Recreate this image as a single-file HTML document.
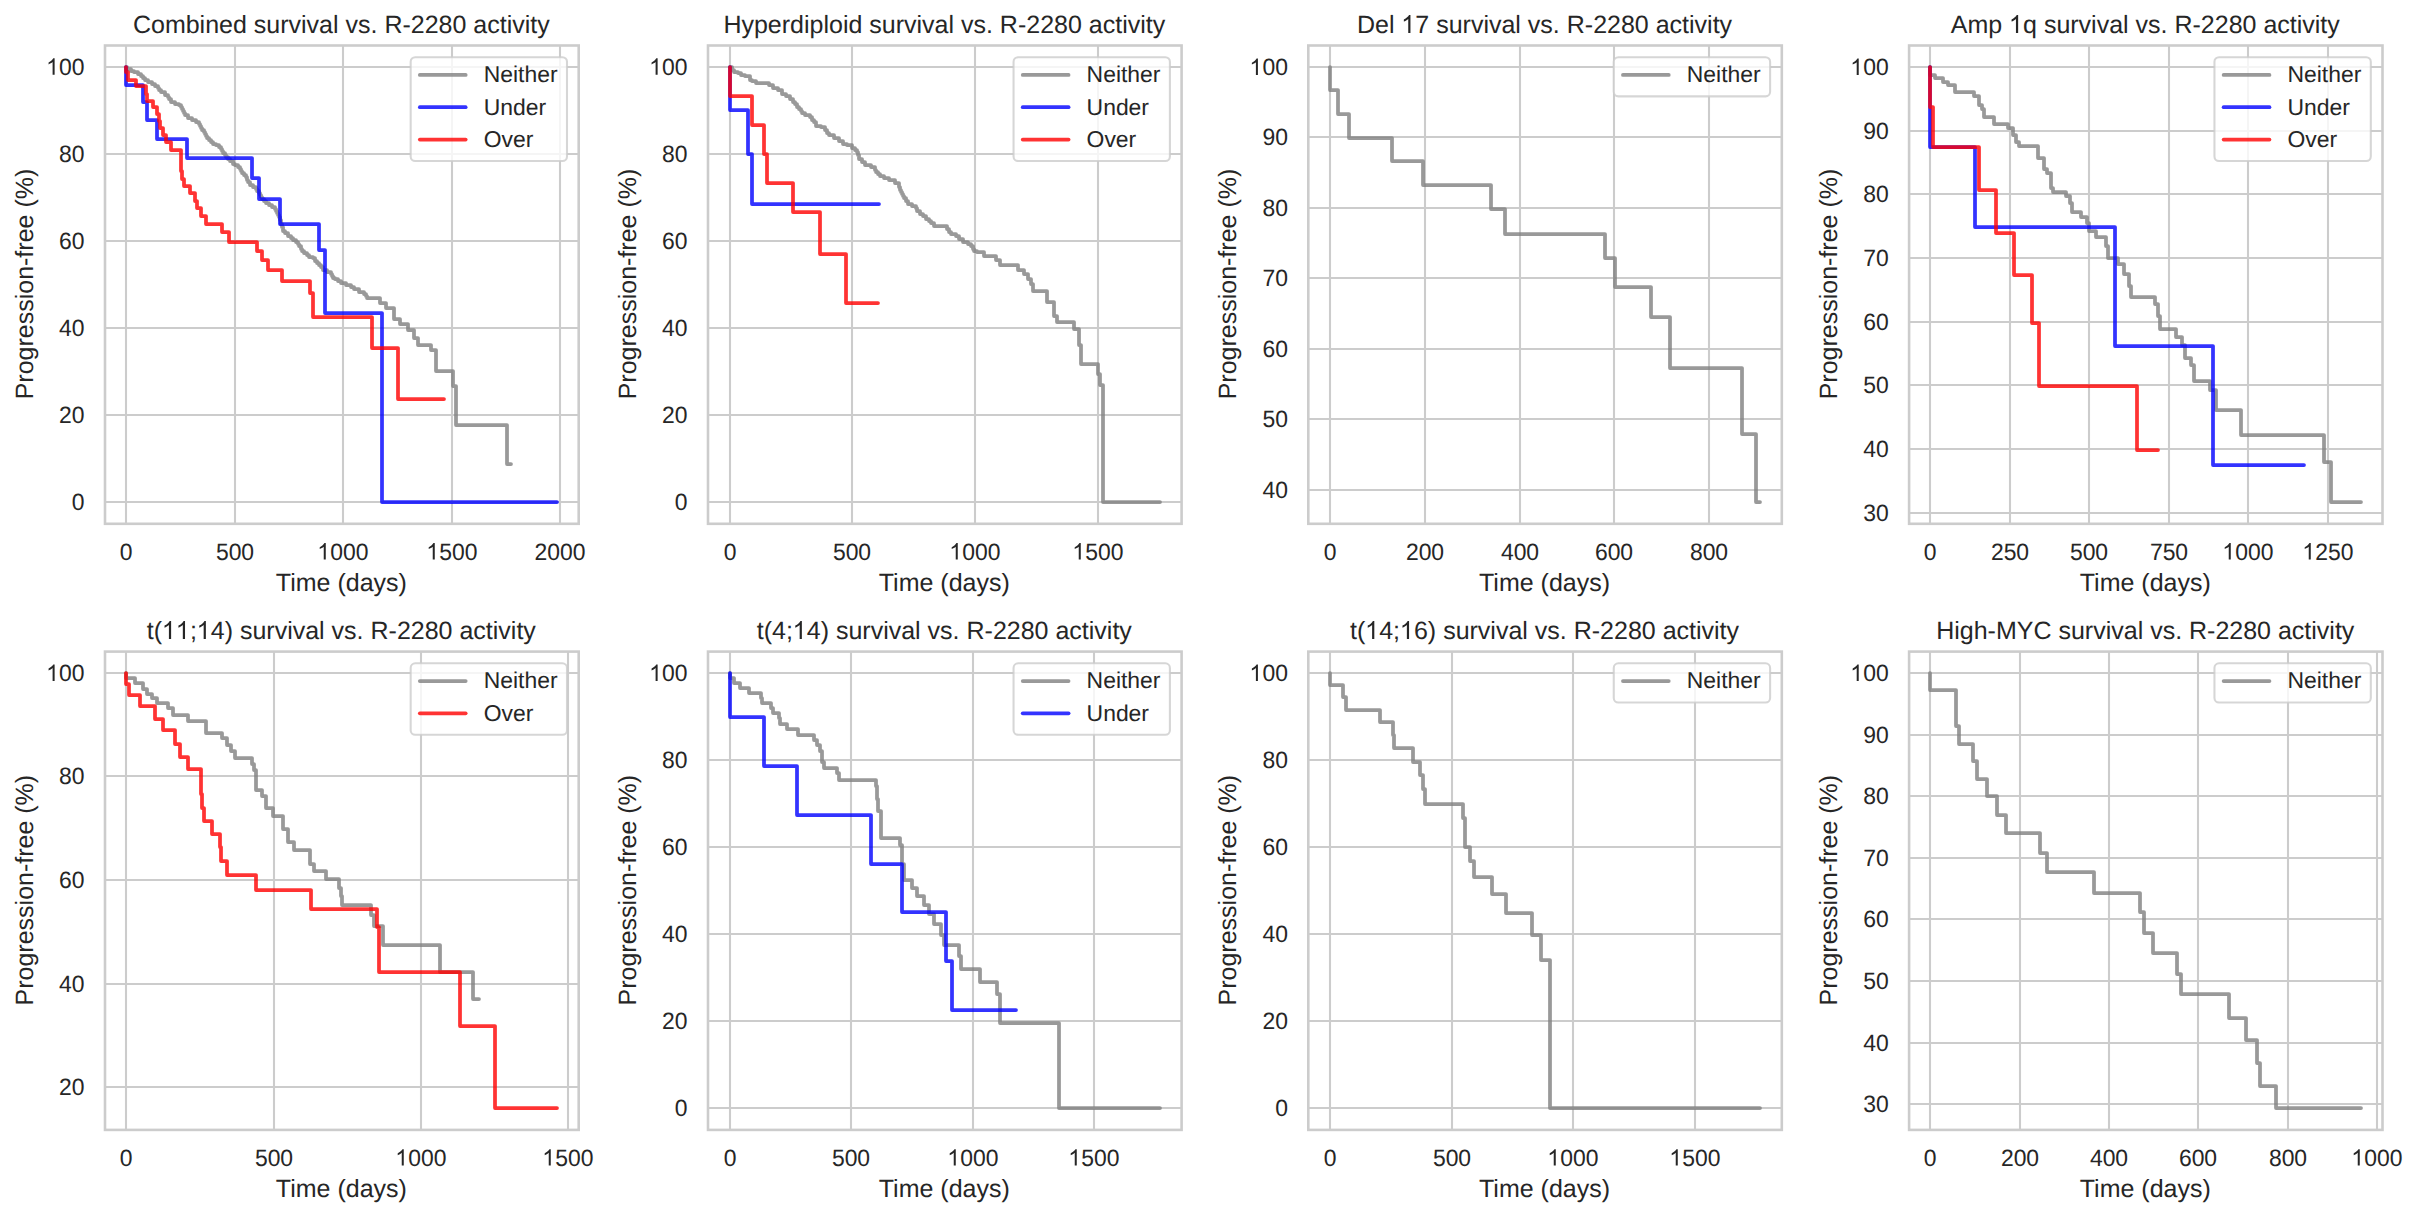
<!DOCTYPE html><html><head><meta charset="utf-8"><style>html,body{margin:0;padding:0;background:#fff;}svg{display:block;}text{font-family:"Liberation Sans",sans-serif;fill:#262626;text-rendering:geometricPrecision;}</style></head><body>
<svg width="2418" height="1218" viewBox="0 0 2418 1218">
<rect x="0" y="0" width="2418" height="1218" fill="#ffffff"/>
<path d="M126 45.5V523.8M235 45.5V523.8M343 45.5V523.8M452 45.5V523.8M560 45.5V523.8M105 502H578.7M105 415H578.7M105 328H578.7M105 241H578.7M105 154H578.7M105 67H578.7" stroke="#cccccc" stroke-width="2.08" fill="none"/>
<path d="M126 67L127 67L127 69L129 69L131 69L131 71L132 71L134 71L134 72L136 72L138 72L138 74L140 74L141 74L141 76L143 76L143 78L144 78L145 78L145 80L146 80L148 80L148 82L150 82L152 82L152 84L154 84L155 84L155 86L157 86L158 86L158 88L159 88L159 90L160 90L161 90L161 92L163 92L165 92L165 95L168 95L168 95L168 97L169 97L169 99L170 99L171 99L171 102L172 102L175 102L175 104L178 104L179 104L179 105L181 105L181 107L182 107L182 107L182 109L183 109L183 111L184 111L184 111L184 113L185 113L185 115L186 115L188 115L188 118L190 118L192 118L192 120L194 120L196 120L196 122L198 122L199 122L199 124L200 124L200 126L201 126L201 126L201 128L202 128L202 130L203 130L204 130L204 132L205 132L205 134L206 134L206 136L206 136L207 136L207 138L209 138L209 140L211 140L211 142L211 142L213 142L213 144L216 144L216 145L217 145L219 145L219 147L220 147L221 147L221 149L222 149L222 151L223 151L223 153L224 153L225 153L225 155L226 155L226 157L228 157L228 159L229 159L230 159L230 161L233 161L233 164L234 164L235 164L235 165L238 165L238 167L239 167L240 167L240 169L241 169L241 171L242 171L242 173L243 173L244 173L244 175L246 175L246 177L247 177L247 177L247 180L248 180L248 182L249 182L250 182L250 185L253 185L253 187L255 187L256 187L256 189L257 189L257 191L259 191L259 193L260 193L260 193L260 195L261 195L261 197L262 197L262 199L263 199L264 199L264 201L266 201L266 203L268 203L269 203L269 205L272 205L272 207L274 207L275 207L275 209L276 209L276 211L277 211L277 213L278 213L278 213L278 215L279 215L279 217L280 217L280 219L280 219L280 220L281 220L281 222L281 222L281 222L281 224L282 224L282 227L283 227L283 229L283 229L283 231L284 231L285 231L285 233L288 233L288 236L289 236L291 236L291 238L293 238L293 240L296 240L296 242L297 242L298 242L298 244L299 244L299 246L301 246L301 249L301 249L302 249L302 251L304 251L304 253L307 253L307 255L308 255L309 255L309 257L313 257L313 258L314 258L315 258L315 261L317 261L317 263L318 263L319 263L319 265L321 265L321 267L323 267L323 270L324 270L327 270L327 272L330 272L331 272L331 274L332 274L332 276L333 276L333 278L334 278L335 278L335 279L338 279L338 281L341 281L341 283L342 283L346 283L346 285L350 285L351 285L351 287L354 287L354 289L355 289L359 289L359 292L363 292L364 292L364 294L366 294L366 296L367 296L367 298L368 298L374 298L374 298L380 298L380 303L386 303L386 308L394 308L394 319L400 319L400 324L408 324L408 330L414 330L414 338L418 338L418 345L431 345L431 350L436 350L436 371L453 371L453 386L456 386L456 425L507 425L507 464L511 464" stroke="#808080" stroke-opacity="0.8" stroke-width="3.75" fill="none" stroke-linejoin="round" stroke-linecap="round"/>
<path d="M126 67L126 85L143 85L143 102L147 102L147 120L157 120L157 139L187 139L187 158L252 158L252 178L259 178L259 199L280 199L280 224L319 224L319 250L325 250L325 313L382 313L382 502L557 502" stroke="#0000ff" stroke-opacity="0.8" stroke-width="3.75" fill="none" stroke-linejoin="round" stroke-linecap="round"/>
<path d="M126 67L126 72L128 72L128 80L136 80L136 86L146 86L146 94L147 94L147 101L153 101L153 107L157 107L157 114L159 114L159 121L160 121L160 128L163 128L163 135L166 135L166 142L171 142L171 150L181 150L181 171L182 171L182 179L184 179L184 186L190 186L190 193L195 193L195 201L197 201L197 208L201 208L201 216L206 216L206 224L222 224L222 232L229 232L229 242L257 242L257 251L262 251L262 260L268 260L268 270L282 270L282 281L310 281L310 293L313 293L313 317L372 317L372 348L398 348L398 399L444 399" stroke="#ff0000" stroke-opacity="0.8" stroke-width="3.75" fill="none" stroke-linejoin="round" stroke-linecap="round"/>
<rect x="105" y="45.5" width="473.7" height="478.3" fill="none" stroke="#cccccc" stroke-width="2.6"/>
<text transform="translate(126 559.5) scale(1 1.035)" font-size="22.92" text-anchor="middle">0</text>
<text transform="translate(235 559.5) scale(1 1.035)" font-size="22.92" text-anchor="middle">500</text>
<text id="q0" transform="translate(343 559.5) scale(1 1.035)" font-size="22.92" text-anchor="middle"> 000</text>
<text id="q1" transform="translate(452 559.5) scale(1 1.035)" font-size="22.92" text-anchor="middle"> 500</text>
<text transform="translate(560 559.5) scale(1 1.035)" font-size="22.92" text-anchor="middle">2000</text>
<text transform="translate(84.6 509.95) scale(1 1.035)" font-size="22.92" text-anchor="end">0</text>
<text transform="translate(84.6 422.92) scale(1 1.035)" font-size="22.92" text-anchor="end">20</text>
<text transform="translate(84.6 335.89) scale(1 1.035)" font-size="22.92" text-anchor="end">40</text>
<text transform="translate(84.6 248.86) scale(1 1.035)" font-size="22.92" text-anchor="end">60</text>
<text transform="translate(84.6 161.83) scale(1 1.035)" font-size="22.92" text-anchor="end">80</text>
<text id="q2" transform="translate(84.6 74.8) scale(1 1.035)" font-size="22.92" text-anchor="end"> 00</text>
<text x="341.35" y="32.9" font-size="25.0" text-anchor="middle">Combined survival vs. R-2280 activity</text>
<text x="341.35" y="590.9" font-size="25.0" text-anchor="middle">Time (days)</text>
<text transform="translate(33.1 284.05) rotate(-90)" font-size="25.0" text-anchor="middle">Progression-free (%)</text>
<rect x="410.66" y="57.2" width="156.34" height="103.81" rx="4.6" ry="4.6" fill="#ffffff" fill-opacity="0.8" stroke="#cccccc" stroke-opacity="0.8" stroke-width="2.08"/>
<path d="M419.83 74.9H465.67" stroke="#808080" stroke-opacity="0.8" stroke-width="3.75" stroke-linecap="round"/>
<text x="483.7" y="81.8" font-size="22.92">Neither</text>
<path d="M419.83 107.21H465.67" stroke="#0000ff" stroke-opacity="0.8" stroke-width="3.75" stroke-linecap="round"/>
<text x="483.7" y="114.61" font-size="22.92">Under</text>
<path d="M419.83 139.52H465.67" stroke="#ff0000" stroke-opacity="0.8" stroke-width="3.75" stroke-linecap="round"/>
<text x="483.7" y="146.92" font-size="22.92">Over</text>
<path d="M730 45.5V523.8M852 45.5V523.8M975 45.5V523.8M1098 45.5V523.8M708 502H1181.6M708 415H1181.6M708 328H1181.6M708 241H1181.6M708 154H1181.6M708 67H1181.6" stroke="#cccccc" stroke-width="2.08" fill="none"/>
<path d="M730 67L732 67L732 70L733 70L734 70L734 72L735 72L738 72L738 73L740 73L741 73L741 75L742 75L745 75L745 76L749 76L750 76L750 80L751 80L752 80L752 81L754 81L756 81L756 83L759 83L767 83L769 83L769 85L770 85L773 85L773 88L775 88L778 88L778 90L780 90L782 90L782 94L784 94L786 94L786 96L788 96L790 96L790 99L792 99L793 99L793 102L795 102L795 104L796 104L797 104L797 107L799 107L799 109L801 109L801 109L801 111L802 111L802 113L803 113L805 113L805 115L808 115L810 115L810 117L812 117L812 117L812 120L814 120L814 122L815 122L816 122L816 126L817 126L821 126L821 127L824 127L825 127L825 130L827 130L827 133L829 133L829 135L830 135L834 135L834 138L838 138L839 138L839 141L843 141L843 144L844 144L847 144L847 145L850 145L852 145L852 148L855 148L855 150L857 150L857 150L857 152L858 152L858 155L859 155L859 157L859 157L859 159L860 159L862 159L862 162L865 162L865 165L867 165L871 165L871 167L874 167L875 167L875 170L876 170L876 172L878 172L878 174L879 174L880 174L880 176L884 176L884 178L885 178L889 178L889 180L892 180L895 180L895 183L898 183L899 183L899 185L899 185L899 187L900 187L900 190L900 190L901 190L901 192L902 192L902 194L903 194L903 196L904 196L904 198L905 198L906 198L906 201L908 201L908 204L908 204L912 204L912 206L915 206L916 206L916 208L917 208L917 211L918 211L920 211L920 214L923 214L923 216L926 216L926 219L928 219L929 219L929 221L931 221L931 223L931 223L934 223L934 226L936 226L941 226L941 226L946 226L947 226L947 229L949 229L949 232L949 232L951 232L951 234L956 234L956 236L958 236L959 236L959 239L963 239L963 242L964 242L968 242L968 244L971 244L971 244L971 246L973 246L973 249L974 249L974 251L975 251L977 251L977 252L980 252L984 252L984 256L996 256L996 260L1000 260L1000 265L1018 265L1018 270L1024 270L1024 274L1028 274L1028 279L1031 279L1031 284L1033 284L1033 291L1047 291L1047 302L1054 302L1054 316L1057 316L1057 322L1074 322L1074 329L1079 329L1079 345L1081 345L1081 364L1098 364L1098 374L1100 374L1100 385L1103 385L1103 502L1160 502" stroke="#808080" stroke-opacity="0.8" stroke-width="3.75" fill="none" stroke-linejoin="round" stroke-linecap="round"/>
<path d="M730 67L730 110L748 110L748 154L752 154L752 204L879 204" stroke="#0000ff" stroke-opacity="0.8" stroke-width="3.75" fill="none" stroke-linejoin="round" stroke-linecap="round"/>
<path d="M730 67L730 96L752 96L752 125L764 125L764 154L767 154L767 183L793 183L793 212L820 212L820 254L846 254L846 303L878 303" stroke="#ff0000" stroke-opacity="0.8" stroke-width="3.75" fill="none" stroke-linejoin="round" stroke-linecap="round"/>
<rect x="708" y="45.5" width="473.6" height="478.3" fill="none" stroke="#cccccc" stroke-width="2.6"/>
<text transform="translate(730 559.5) scale(1 1.035)" font-size="22.92" text-anchor="middle">0</text>
<text transform="translate(852 559.5) scale(1 1.035)" font-size="22.92" text-anchor="middle">500</text>
<text id="q3" transform="translate(975 559.5) scale(1 1.035)" font-size="22.92" text-anchor="middle"> 000</text>
<text id="q4" transform="translate(1098 559.5) scale(1 1.035)" font-size="22.92" text-anchor="middle"> 500</text>
<text transform="translate(687.6 509.95) scale(1 1.035)" font-size="22.92" text-anchor="end">0</text>
<text transform="translate(687.6 422.92) scale(1 1.035)" font-size="22.92" text-anchor="end">20</text>
<text transform="translate(687.6 335.89) scale(1 1.035)" font-size="22.92" text-anchor="end">40</text>
<text transform="translate(687.6 248.86) scale(1 1.035)" font-size="22.92" text-anchor="end">60</text>
<text transform="translate(687.6 161.83) scale(1 1.035)" font-size="22.92" text-anchor="end">80</text>
<text id="q5" transform="translate(687.6 74.8) scale(1 1.035)" font-size="22.92" text-anchor="end"> 00</text>
<text x="944.3" y="32.9" font-size="25.0" text-anchor="middle">Hyperdiploid survival vs. R-2280 activity</text>
<text x="944.3" y="590.9" font-size="25.0" text-anchor="middle">Time (days)</text>
<text transform="translate(636.1 284.05) rotate(-90)" font-size="25.0" text-anchor="middle">Progression-free (%)</text>
<rect x="1013.56" y="57.2" width="156.34" height="103.81" rx="4.6" ry="4.6" fill="#ffffff" fill-opacity="0.8" stroke="#cccccc" stroke-opacity="0.8" stroke-width="2.08"/>
<path d="M1022.73 74.9H1068.57" stroke="#808080" stroke-opacity="0.8" stroke-width="3.75" stroke-linecap="round"/>
<text x="1086.6" y="81.8" font-size="22.92">Neither</text>
<path d="M1022.73 107.21H1068.57" stroke="#0000ff" stroke-opacity="0.8" stroke-width="3.75" stroke-linecap="round"/>
<text x="1086.6" y="114.61" font-size="22.92">Under</text>
<path d="M1022.73 139.52H1068.57" stroke="#ff0000" stroke-opacity="0.8" stroke-width="3.75" stroke-linecap="round"/>
<text x="1086.6" y="146.92" font-size="22.92">Over</text>
<path d="M1330 45.5V523.8M1425 45.5V523.8M1520 45.5V523.8M1614 45.5V523.8M1709 45.5V523.8M1308.3 490H1781.8M1308.3 419H1781.8M1308.3 349H1781.8M1308.3 278H1781.8M1308.3 208H1781.8M1308.3 137H1781.8M1308.3 67H1781.8" stroke="#cccccc" stroke-width="2.08" fill="none"/>
<path d="M1330 67L1330 90L1338 90L1338 114L1349 114L1349 138L1392 138L1392 161L1423 161L1423 185L1491 185L1491 209L1505 209L1505 234L1605 234L1605 258L1615 258L1615 287L1651 287L1651 317L1670 317L1670 368L1742 368L1742 434L1756 434L1756 502L1760 502" stroke="#808080" stroke-opacity="0.8" stroke-width="3.75" fill="none" stroke-linejoin="round" stroke-linecap="round"/>
<rect x="1308.3" y="45.5" width="473.5" height="478.3" fill="none" stroke="#cccccc" stroke-width="2.6"/>
<text transform="translate(1330 559.5) scale(1 1.035)" font-size="22.92" text-anchor="middle">0</text>
<text transform="translate(1425 559.5) scale(1 1.035)" font-size="22.92" text-anchor="middle">200</text>
<text transform="translate(1520 559.5) scale(1 1.035)" font-size="22.92" text-anchor="middle">400</text>
<text transform="translate(1614 559.5) scale(1 1.035)" font-size="22.92" text-anchor="middle">600</text>
<text transform="translate(1709 559.5) scale(1 1.035)" font-size="22.92" text-anchor="middle">800</text>
<text transform="translate(1287.9 497.58) scale(1 1.035)" font-size="22.92" text-anchor="end">40</text>
<text transform="translate(1287.9 427.15) scale(1 1.035)" font-size="22.92" text-anchor="end">50</text>
<text transform="translate(1287.9 356.72) scale(1 1.035)" font-size="22.92" text-anchor="end">60</text>
<text transform="translate(1287.9 286.29) scale(1 1.035)" font-size="22.92" text-anchor="end">70</text>
<text transform="translate(1287.9 215.86) scale(1 1.035)" font-size="22.92" text-anchor="end">80</text>
<text transform="translate(1287.9 145.43) scale(1 1.035)" font-size="22.92" text-anchor="end">90</text>
<text id="q6" transform="translate(1287.9 75) scale(1 1.035)" font-size="22.92" text-anchor="end"> 00</text>
<text id="q7" x="1544.55" y="32.9" font-size="25.0" text-anchor="middle">Del  7 survival vs. R-2280 activity</text>
<text x="1544.55" y="590.9" font-size="25.0" text-anchor="middle">Time (days)</text>
<text transform="translate(1236.4 284.05) rotate(-90)" font-size="25.0" text-anchor="middle">Progression-free (%)</text>
<rect x="1613.76" y="57.2" width="156.34" height="39.19" rx="4.6" ry="4.6" fill="#ffffff" fill-opacity="0.8" stroke="#cccccc" stroke-opacity="0.8" stroke-width="2.08"/>
<path d="M1622.93 74.9H1668.77" stroke="#808080" stroke-opacity="0.8" stroke-width="3.75" stroke-linecap="round"/>
<text x="1686.8" y="81.8" font-size="22.92">Neither</text>
<path d="M1930 45.5V523.8M2010 45.5V523.8M2089 45.5V523.8M2169 45.5V523.8M2248 45.5V523.8M2328 45.5V523.8M1909.1 513H2382.5M1909.1 449H2382.5M1909.1 385H2382.5M1909.1 322H2382.5M1909.1 258H2382.5M1909.1 194H2382.5M1909.1 131H2382.5M1909.1 67H2382.5" stroke="#cccccc" stroke-width="2.08" fill="none"/>
<path d="M1930 67L1930 75L1935 75L1935 78L1943 78L1943 82L1948 82L1948 85L1955 85L1955 92L1974 92L1974 96L1979 96L1979 105L1982 105L1982 109L1984 109L1984 117L1994 117L1994 124L2008 124L2008 128L2013 128L2013 135L2016 135L2016 142L2019 142L2019 146L2038 146L2038 158L2044 158L2044 169L2047 169L2047 173L2051 173L2051 188L2053 188L2053 192L2066 192L2066 196L2070 196L2070 203L2072 203L2072 212L2081 212L2081 217L2087 217L2087 223L2089 223L2089 231L2096 231L2096 237L2106 237L2106 246L2108 246L2108 258L2118 258L2118 264L2124 264L2124 274L2129 274L2129 286L2131 286L2131 297L2155 297L2155 304L2158 304L2158 316L2160 316L2160 329L2176 329L2176 337L2182 337L2182 345L2185 345L2185 358L2191 358L2191 365L2194 365L2194 381L2210 381L2210 390L2216 390L2216 410L2241 410L2241 435L2324 435L2324 462L2331 462L2331 502L2361 502" stroke="#808080" stroke-opacity="0.8" stroke-width="3.75" fill="none" stroke-linejoin="round" stroke-linecap="round"/>
<path d="M1930 67L1930 147L1975 147L1975 227L2115 227L2115 346L2213 346L2213 465L2304 465" stroke="#0000ff" stroke-opacity="0.8" stroke-width="3.75" fill="none" stroke-linejoin="round" stroke-linecap="round"/>
<path d="M1930 67L1930 107L1933 107L1933 147L1979 147L1979 190L1996 190L1996 233L2014 233L2014 275L2032 275L2032 323L2039 323L2039 386L2137 386L2137 450L2158 450" stroke="#ff0000" stroke-opacity="0.8" stroke-width="3.75" fill="none" stroke-linejoin="round" stroke-linecap="round"/>
<rect x="1909.1" y="45.5" width="473.4" height="478.3" fill="none" stroke="#cccccc" stroke-width="2.6"/>
<text transform="translate(1930 559.5) scale(1 1.035)" font-size="22.92" text-anchor="middle">0</text>
<text transform="translate(2010 559.5) scale(1 1.035)" font-size="22.92" text-anchor="middle">250</text>
<text transform="translate(2089 559.5) scale(1 1.035)" font-size="22.92" text-anchor="middle">500</text>
<text transform="translate(2169 559.5) scale(1 1.035)" font-size="22.92" text-anchor="middle">750</text>
<text id="q8" transform="translate(2248 559.5) scale(1 1.035)" font-size="22.92" text-anchor="middle"> 000</text>
<text id="q9" transform="translate(2328 559.5) scale(1 1.035)" font-size="22.92" text-anchor="middle"> 250</text>
<text transform="translate(1888.7 520.83) scale(1 1.035)" font-size="22.92" text-anchor="end">30</text>
<text transform="translate(1888.7 457.14) scale(1 1.035)" font-size="22.92" text-anchor="end">40</text>
<text transform="translate(1888.7 393.45) scale(1 1.035)" font-size="22.92" text-anchor="end">50</text>
<text transform="translate(1888.7 329.76) scale(1 1.035)" font-size="22.92" text-anchor="end">60</text>
<text transform="translate(1888.7 266.07) scale(1 1.035)" font-size="22.92" text-anchor="end">70</text>
<text transform="translate(1888.7 202.38) scale(1 1.035)" font-size="22.92" text-anchor="end">80</text>
<text transform="translate(1888.7 138.69) scale(1 1.035)" font-size="22.92" text-anchor="end">90</text>
<text id="q10" transform="translate(1888.7 75) scale(1 1.035)" font-size="22.92" text-anchor="end"> 00</text>
<text id="q11" x="2145.3" y="32.9" font-size="25.0" text-anchor="middle">Amp  q survival vs. R-2280 activity</text>
<text x="2145.3" y="590.9" font-size="25.0" text-anchor="middle">Time (days)</text>
<text transform="translate(1837.2 284.05) rotate(-90)" font-size="25.0" text-anchor="middle">Progression-free (%)</text>
<rect x="2214.46" y="57.2" width="156.34" height="103.81" rx="4.6" ry="4.6" fill="#ffffff" fill-opacity="0.8" stroke="#cccccc" stroke-opacity="0.8" stroke-width="2.08"/>
<path d="M2223.63 74.9H2269.47" stroke="#808080" stroke-opacity="0.8" stroke-width="3.75" stroke-linecap="round"/>
<text x="2287.5" y="81.8" font-size="22.92">Neither</text>
<path d="M2223.63 107.21H2269.47" stroke="#0000ff" stroke-opacity="0.8" stroke-width="3.75" stroke-linecap="round"/>
<text x="2287.5" y="114.61" font-size="22.92">Under</text>
<path d="M2223.63 139.52H2269.47" stroke="#ff0000" stroke-opacity="0.8" stroke-width="3.75" stroke-linecap="round"/>
<text x="2287.5" y="146.92" font-size="22.92">Over</text>
<path d="M126 651.6V1129.9M274 651.6V1129.9M421 651.6V1129.9M568 651.6V1129.9M105 1087H578.7M105 984H578.7M105 880H578.7M105 776H578.7M105 673H578.7" stroke="#cccccc" stroke-width="2.08" fill="none"/>
<path d="M126 673L126 678L135 678L135 683L143 683L143 689L147 689L147 694L152 694L152 698L157 698L157 703L168 703L168 708L173 708L173 715L188 715L188 721L206 721L206 733L222 733L222 738L227 738L227 745L231 745L231 751L235 751L235 758L252 758L252 764L254 764L254 770L256 770L256 790L262 790L262 796L266 796L266 808L273 808L273 816L283 816L283 829L288 829L288 842L294 842L294 850L310 850L310 864L314 864L314 871L326 871L326 879L339 879L339 888L341 888L341 896L342 896L342 905L371 905L371 915L374 915L374 926L383 926L383 945L440 945L440 972L473 972L473 999L479 999" stroke="#808080" stroke-opacity="0.8" stroke-width="3.75" fill="none" stroke-linejoin="round" stroke-linecap="round"/>
<path d="M126 673L126 684L129 684L129 695L140 695L140 706L155 706L155 719L163 719L163 730L175 730L175 744L180 744L180 757L188 757L188 769L201 769L201 794L202 794L202 808L204 808L204 821L212 821L212 834L220 834L220 847L221 847L221 861L227 861L227 875L256 875L256 890L311 890L311 909L377 909L377 927L379 927L379 972L460 972L460 1026L495 1026L495 1108L557 1108" stroke="#ff0000" stroke-opacity="0.8" stroke-width="3.75" fill="none" stroke-linejoin="round" stroke-linecap="round"/>
<rect x="105" y="651.6" width="473.7" height="478.3" fill="none" stroke="#cccccc" stroke-width="2.6"/>
<text transform="translate(126 1165.6) scale(1 1.035)" font-size="22.92" text-anchor="middle">0</text>
<text transform="translate(274 1165.6) scale(1 1.035)" font-size="22.92" text-anchor="middle">500</text>
<text id="q12" transform="translate(421 1165.6) scale(1 1.035)" font-size="22.92" text-anchor="middle"> 000</text>
<text id="q13" transform="translate(568 1165.6) scale(1 1.035)" font-size="22.92" text-anchor="middle"> 500</text>
<text transform="translate(84.6 1095.2) scale(1 1.035)" font-size="22.92" text-anchor="end">20</text>
<text transform="translate(84.6 991.62) scale(1 1.035)" font-size="22.92" text-anchor="end">40</text>
<text transform="translate(84.6 888.05) scale(1 1.035)" font-size="22.92" text-anchor="end">60</text>
<text transform="translate(84.6 784.48) scale(1 1.035)" font-size="22.92" text-anchor="end">80</text>
<text id="q14" transform="translate(84.6 680.9) scale(1 1.035)" font-size="22.92" text-anchor="end"> 00</text>
<text id="q15" x="341.35" y="639" font-size="25.0" text-anchor="middle">t(  ; 4) survival vs. R-2280 activity</text>
<text x="341.35" y="1197" font-size="25.0" text-anchor="middle">Time (days)</text>
<text transform="translate(33.1 890.15) rotate(-90)" font-size="25.0" text-anchor="middle">Progression-free (%)</text>
<rect x="410.66" y="663.3" width="156.34" height="71.5" rx="4.6" ry="4.6" fill="#ffffff" fill-opacity="0.8" stroke="#cccccc" stroke-opacity="0.8" stroke-width="2.08"/>
<path d="M419.83 681H465.67" stroke="#808080" stroke-opacity="0.8" stroke-width="3.75" stroke-linecap="round"/>
<text x="483.7" y="687.9" font-size="22.92">Neither</text>
<path d="M419.83 713.31H465.67" stroke="#ff0000" stroke-opacity="0.8" stroke-width="3.75" stroke-linecap="round"/>
<text x="483.7" y="720.71" font-size="22.92">Over</text>
<path d="M730 651.6V1129.9M851 651.6V1129.9M973 651.6V1129.9M1094 651.6V1129.9M708 1108H1181.6M708 1021H1181.6M708 934H1181.6M708 847H1181.6M708 760H1181.6M708 673H1181.6" stroke="#cccccc" stroke-width="2.08" fill="none"/>
<path d="M730 673L730 678L734 678L734 683L740 683L740 688L749 688L749 693L761 693L761 698L762 698L762 703L771 703L771 708L773 708L773 713L779 713L779 718L780 718L780 724L787 724L787 729L798 729L798 735L814 735L814 740L817 740L817 745L820 745L820 751L822 751L822 762L824 762L824 768L837 768L837 773L839 773L839 780L876 780L876 786L877 786L877 799L878 799L878 811L881 811L881 838L900 838L900 845L902 845L902 864L904 864L904 880L912 880L912 888L917 888L917 896L924 896L924 905L929 905L929 914L934 914L934 924L941 924L941 935L944 935L944 945L959 945L959 956L961 956L961 969L980 969L980 982L997 982L997 994L1000 994L1000 1023L1059 1023L1059 1108L1160 1108" stroke="#808080" stroke-opacity="0.8" stroke-width="3.75" fill="none" stroke-linejoin="round" stroke-linecap="round"/>
<path d="M730 673L730 717L764 717L764 766L797 766L797 815L871 815L871 864L902 864L902 912L946 912L946 961L952 961L952 1010L1016 1010" stroke="#0000ff" stroke-opacity="0.8" stroke-width="3.75" fill="none" stroke-linejoin="round" stroke-linecap="round"/>
<rect x="708" y="651.6" width="473.6" height="478.3" fill="none" stroke="#cccccc" stroke-width="2.6"/>
<text transform="translate(730 1165.6) scale(1 1.035)" font-size="22.92" text-anchor="middle">0</text>
<text transform="translate(851 1165.6) scale(1 1.035)" font-size="22.92" text-anchor="middle">500</text>
<text id="q16" transform="translate(973 1165.6) scale(1 1.035)" font-size="22.92" text-anchor="middle"> 000</text>
<text id="q17" transform="translate(1094 1165.6) scale(1 1.035)" font-size="22.92" text-anchor="middle"> 500</text>
<text transform="translate(687.6 1116.05) scale(1 1.035)" font-size="22.92" text-anchor="end">0</text>
<text transform="translate(687.6 1029.02) scale(1 1.035)" font-size="22.92" text-anchor="end">20</text>
<text transform="translate(687.6 941.99) scale(1 1.035)" font-size="22.92" text-anchor="end">40</text>
<text transform="translate(687.6 854.96) scale(1 1.035)" font-size="22.92" text-anchor="end">60</text>
<text transform="translate(687.6 767.93) scale(1 1.035)" font-size="22.92" text-anchor="end">80</text>
<text id="q18" transform="translate(687.6 680.9) scale(1 1.035)" font-size="22.92" text-anchor="end"> 00</text>
<text id="q19" x="944.3" y="639" font-size="25.0" text-anchor="middle">t(4; 4) survival vs. R-2280 activity</text>
<text x="944.3" y="1197" font-size="25.0" text-anchor="middle">Time (days)</text>
<text transform="translate(636.1 890.15) rotate(-90)" font-size="25.0" text-anchor="middle">Progression-free (%)</text>
<rect x="1013.56" y="663.3" width="156.34" height="71.5" rx="4.6" ry="4.6" fill="#ffffff" fill-opacity="0.8" stroke="#cccccc" stroke-opacity="0.8" stroke-width="2.08"/>
<path d="M1022.73 681H1068.57" stroke="#808080" stroke-opacity="0.8" stroke-width="3.75" stroke-linecap="round"/>
<text x="1086.6" y="687.9" font-size="22.92">Neither</text>
<path d="M1022.73 713.31H1068.57" stroke="#0000ff" stroke-opacity="0.8" stroke-width="3.75" stroke-linecap="round"/>
<text x="1086.6" y="720.71" font-size="22.92">Under</text>
<path d="M1330 651.6V1129.9M1452 651.6V1129.9M1573 651.6V1129.9M1695 651.6V1129.9M1308.3 1108H1781.8M1308.3 1021H1781.8M1308.3 934H1781.8M1308.3 847H1781.8M1308.3 760H1781.8M1308.3 673H1781.8" stroke="#cccccc" stroke-width="2.08" fill="none"/>
<path d="M1330 673L1330 685L1343 685L1343 697L1346 697L1346 710L1380 710L1380 722L1393 722L1393 735L1394 735L1394 748L1413 748L1413 762L1420 762L1420 775L1423 775L1423 789L1425 789L1425 804L1463 804L1463 818L1465 818L1465 831L1465 831L1465 847L1470 847L1470 861L1474 861L1474 877L1492 877L1492 894L1506 894L1506 913L1532 913L1532 935L1541 935L1541 960L1550 960L1550 1108L1760 1108" stroke="#808080" stroke-opacity="0.8" stroke-width="3.75" fill="none" stroke-linejoin="round" stroke-linecap="round"/>
<rect x="1308.3" y="651.6" width="473.5" height="478.3" fill="none" stroke="#cccccc" stroke-width="2.6"/>
<text transform="translate(1330 1165.6) scale(1 1.035)" font-size="22.92" text-anchor="middle">0</text>
<text transform="translate(1452 1165.6) scale(1 1.035)" font-size="22.92" text-anchor="middle">500</text>
<text id="q20" transform="translate(1573 1165.6) scale(1 1.035)" font-size="22.92" text-anchor="middle"> 000</text>
<text id="q21" transform="translate(1695 1165.6) scale(1 1.035)" font-size="22.92" text-anchor="middle"> 500</text>
<text transform="translate(1287.9 1116.05) scale(1 1.035)" font-size="22.92" text-anchor="end">0</text>
<text transform="translate(1287.9 1029.02) scale(1 1.035)" font-size="22.92" text-anchor="end">20</text>
<text transform="translate(1287.9 941.99) scale(1 1.035)" font-size="22.92" text-anchor="end">40</text>
<text transform="translate(1287.9 854.96) scale(1 1.035)" font-size="22.92" text-anchor="end">60</text>
<text transform="translate(1287.9 767.93) scale(1 1.035)" font-size="22.92" text-anchor="end">80</text>
<text id="q22" transform="translate(1287.9 680.9) scale(1 1.035)" font-size="22.92" text-anchor="end"> 00</text>
<text id="q23" x="1544.55" y="639" font-size="25.0" text-anchor="middle">t( 4; 6) survival vs. R-2280 activity</text>
<text x="1544.55" y="1197" font-size="25.0" text-anchor="middle">Time (days)</text>
<text transform="translate(1236.4 890.15) rotate(-90)" font-size="25.0" text-anchor="middle">Progression-free (%)</text>
<rect x="1613.76" y="663.3" width="156.34" height="39.19" rx="4.6" ry="4.6" fill="#ffffff" fill-opacity="0.8" stroke="#cccccc" stroke-opacity="0.8" stroke-width="2.08"/>
<path d="M1622.93 681H1668.77" stroke="#808080" stroke-opacity="0.8" stroke-width="3.75" stroke-linecap="round"/>
<text x="1686.8" y="687.9" font-size="22.92">Neither</text>
<path d="M1930 651.6V1129.9M2020 651.6V1129.9M2109 651.6V1129.9M2198 651.6V1129.9M2288 651.6V1129.9M2377 651.6V1129.9M1909.1 1104H2382.5M1909.1 1043H2382.5M1909.1 981H2382.5M1909.1 919H2382.5M1909.1 858H2382.5M1909.1 796H2382.5M1909.1 735H2382.5M1909.1 673H2382.5" stroke="#cccccc" stroke-width="2.08" fill="none"/>
<path d="M1930 673L1930 690L1956 690L1956 726L1959 726L1959 744L1973 744L1973 761L1977 761L1977 779L1987 779L1987 796L1997 796L1997 815L2006 815L2006 833L2040 833L2040 853L2047 853L2047 872L2094 872L2094 893L2140 893L2140 912L2144 912L2144 933L2153 933L2153 953L2177 953L2177 974L2181 974L2181 994L2229 994L2229 1018L2246 1018L2246 1040L2257 1040L2257 1063L2260 1063L2260 1086L2276 1086L2276 1108L2361 1108" stroke="#808080" stroke-opacity="0.8" stroke-width="3.75" fill="none" stroke-linejoin="round" stroke-linecap="round"/>
<rect x="1909.1" y="651.6" width="473.4" height="478.3" fill="none" stroke="#cccccc" stroke-width="2.6"/>
<text transform="translate(1930 1165.6) scale(1 1.035)" font-size="22.92" text-anchor="middle">0</text>
<text transform="translate(2020 1165.6) scale(1 1.035)" font-size="22.92" text-anchor="middle">200</text>
<text transform="translate(2109 1165.6) scale(1 1.035)" font-size="22.92" text-anchor="middle">400</text>
<text transform="translate(2198 1165.6) scale(1 1.035)" font-size="22.92" text-anchor="middle">600</text>
<text transform="translate(2288 1165.6) scale(1 1.035)" font-size="22.92" text-anchor="middle">800</text>
<text id="q24" transform="translate(2377 1165.6) scale(1 1.035)" font-size="22.92" text-anchor="middle"> 000</text>
<text transform="translate(1888.7 1112.2) scale(1 1.035)" font-size="22.92" text-anchor="end">30</text>
<text transform="translate(1888.7 1050.59) scale(1 1.035)" font-size="22.92" text-anchor="end">40</text>
<text transform="translate(1888.7 988.97) scale(1 1.035)" font-size="22.92" text-anchor="end">50</text>
<text transform="translate(1888.7 927.36) scale(1 1.035)" font-size="22.92" text-anchor="end">60</text>
<text transform="translate(1888.7 865.74) scale(1 1.035)" font-size="22.92" text-anchor="end">70</text>
<text transform="translate(1888.7 804.13) scale(1 1.035)" font-size="22.92" text-anchor="end">80</text>
<text transform="translate(1888.7 742.51) scale(1 1.035)" font-size="22.92" text-anchor="end">90</text>
<text id="q25" transform="translate(1888.7 680.9) scale(1 1.035)" font-size="22.92" text-anchor="end"> 00</text>
<text x="2145.3" y="639" font-size="25.0" text-anchor="middle">High-MYC survival vs. R-2280 activity</text>
<text x="2145.3" y="1197" font-size="25.0" text-anchor="middle">Time (days)</text>
<text transform="translate(1837.2 890.15) rotate(-90)" font-size="25.0" text-anchor="middle">Progression-free (%)</text>
<rect x="2214.46" y="663.3" width="156.34" height="39.19" rx="4.6" ry="4.6" fill="#ffffff" fill-opacity="0.8" stroke="#cccccc" stroke-opacity="0.8" stroke-width="2.08"/>
<path d="M2223.63 681H2269.47" stroke="#808080" stroke-opacity="0.8" stroke-width="3.75" stroke-linecap="round"/>
<text x="2287.5" y="687.9" font-size="22.92">Neither</text>
<defs><path id="g1" d="M763 0L583 0L583 1147Q518 1085 412.5 1023Q307 961 223 930L223 1104Q374 1175 487 1276Q600 1377 647 1472L763 1472Z"/></defs>
<use href="#g1" fill="#262626" transform="translate(317.22 559.5) scale(0.011191 -0.011191)"/>
<use href="#g1" fill="#262626" transform="translate(426.22 559.5) scale(0.011191 -0.011191)"/>
<use href="#g1" fill="#262626" transform="translate(46.08 74.8) scale(0.011191 -0.011191)"/>
<use href="#g1" fill="#262626" transform="translate(949.22 559.5) scale(0.011191 -0.011191)"/>
<use href="#g1" fill="#262626" transform="translate(1072.22 559.5) scale(0.011191 -0.011191)"/>
<use href="#g1" fill="#262626" transform="translate(649.08 74.8) scale(0.011191 -0.011191)"/>
<use href="#g1" fill="#262626" transform="translate(1249.38 75) scale(0.011191 -0.011191)"/>
<use href="#g1" fill="#262626" transform="translate(1401.13 32.9) scale(0.012207 -0.012207)"/>
<use href="#g1" fill="#262626" transform="translate(2222.22 559.5) scale(0.011191 -0.011191)"/>
<use href="#g1" fill="#262626" transform="translate(2302.22 559.5) scale(0.011191 -0.011191)"/>
<use href="#g1" fill="#262626" transform="translate(1850.18 75) scale(0.011191 -0.011191)"/>
<use href="#g1" fill="#262626" transform="translate(2008.83 32.9) scale(0.012207 -0.012207)"/>
<use href="#g1" fill="#262626" transform="translate(395.22 1165.6) scale(0.011191 -0.011191)"/>
<use href="#g1" fill="#262626" transform="translate(542.22 1165.6) scale(0.011191 -0.011191)"/>
<use href="#g1" fill="#262626" transform="translate(46.08 680.9) scale(0.011191 -0.011191)"/>
<use href="#g1" fill="#262626" transform="translate(161.8 639) scale(0.012207 -0.012207)"/>
<use href="#g1" fill="#262626" transform="translate(175.71 639) scale(0.012207 -0.012207)"/>
<use href="#g1" fill="#262626" transform="translate(196.55 639) scale(0.012207 -0.012207)"/>
<use href="#g1" fill="#262626" transform="translate(947.22 1165.6) scale(0.011191 -0.011191)"/>
<use href="#g1" fill="#262626" transform="translate(1068.22 1165.6) scale(0.011191 -0.011191)"/>
<use href="#g1" fill="#262626" transform="translate(649.08 680.9) scale(0.011191 -0.011191)"/>
<use href="#g1" fill="#262626" transform="translate(792.55 639) scale(0.012207 -0.012207)"/>
<use href="#g1" fill="#262626" transform="translate(1547.22 1165.6) scale(0.011191 -0.011191)"/>
<use href="#g1" fill="#262626" transform="translate(1669.22 1165.6) scale(0.011191 -0.011191)"/>
<use href="#g1" fill="#262626" transform="translate(1249.38 680.9) scale(0.011191 -0.011191)"/>
<use href="#g1" fill="#262626" transform="translate(1365 639) scale(0.012207 -0.012207)"/>
<use href="#g1" fill="#262626" transform="translate(1399.75 639) scale(0.012207 -0.012207)"/>
<use href="#g1" fill="#262626" transform="translate(2351.22 1165.6) scale(0.011191 -0.011191)"/>
<use href="#g1" fill="#262626" transform="translate(1850.18 680.9) scale(0.011191 -0.011191)"/>
</svg></body></html>
